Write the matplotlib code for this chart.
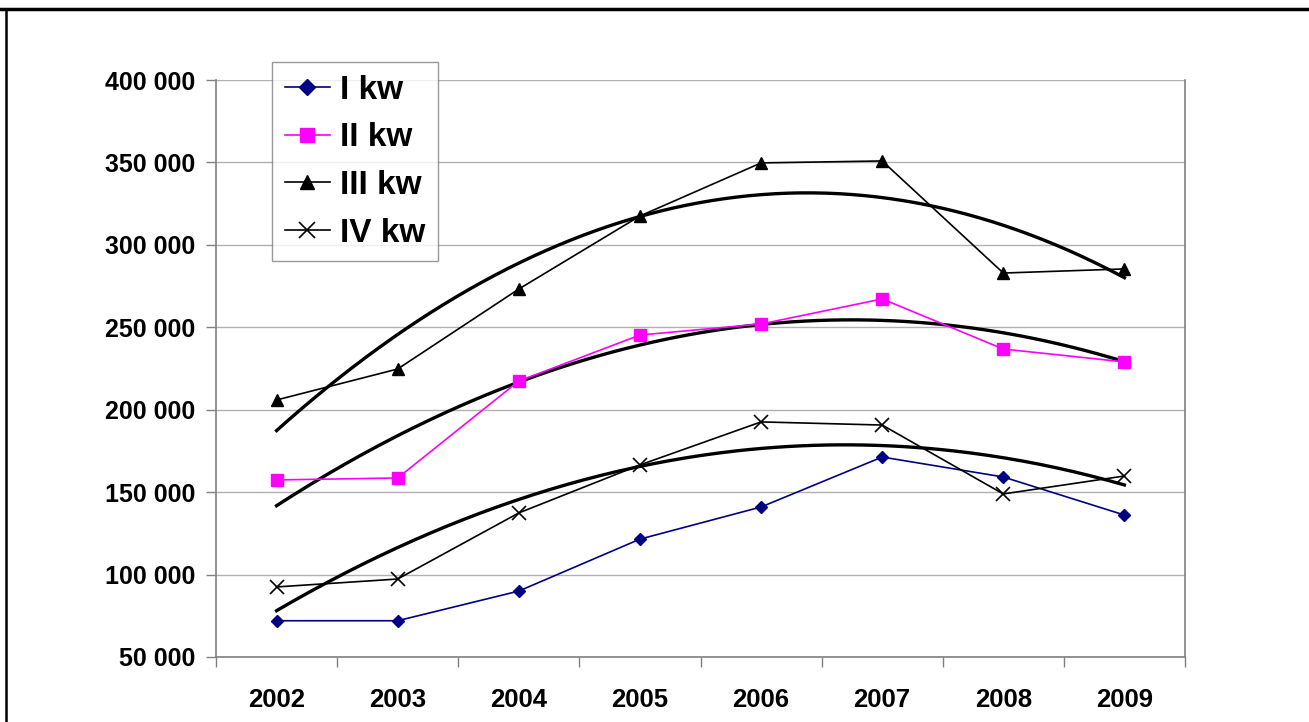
import numpy as np
import matplotlib
matplotlib.use("Agg")
import matplotlib.pyplot as plt
from matplotlib.ticker import FuncFormatter

plt.rcParams['font.family'] = ['Liberation Sans', 'DejaVu Sans']

years = ['2002', '2003', '2004', '2005', '2006', '2007', '2008', '2009']
kw1 = [72000, 72000, 90000, 121500, 141000, 171300, 159200, 136100]
kw2 = [157400, 158600, 217400, 245300, 252000, 267200, 236800, 229000]
kw3 = [205900, 224700, 273200, 317500, 349700, 350900, 282900, 285400]
kw4 = [92500, 97300, 137400, 166500, 192600, 190700, 148900, 159800]
labels = ['I kw', 'II kw', 'III kw', 'IV kw']

fig = plt.figure(figsize=(13.09, 7.22), dpi=100)
ax = fig.add_axes([216/1309, 1-657/722, 969/1309, 577/722])

x = np.arange(len(years)) + 0.5

ax.plot(x, kw1, color='#000080', lw=1.2, marker='D', ms=6.5, label=labels[0], zorder=3)
ax.plot(x, kw2, color='#ff00ff', lw=1.2, marker='s', ms=8, label=labels[1], zorder=3)
ax.plot(x, kw3, color='black', lw=1.2, marker='^', ms=8, label=labels[2], zorder=3)
ax.plot(x, kw4, color='black', lw=1.2, marker='x', ms=10, mew=1.2, label=labels[3], zorder=3)

# polynomial (2nd order) trend lines for II, III, IV
xf = np.linspace(x[0], x[-1], 200)
for ser in (kw2, kw3, kw4):
    c = np.polyfit(x, ser, 2)
    ax.plot(xf, np.polyval(c, xf), color='black', lw=2.4, zorder=2)

ax.set_xlim(0, 8)
ax.set_ylim(50000, 400000)
ax.set_yticks(np.arange(50000, 400001, 50000))
ax.yaxis.set_major_formatter(FuncFormatter(lambda v, p: '{:,}'.format(int(v)).replace(',', ' ')))
ax.set_xticks(np.arange(0, 9))
ax.set_xticklabels([])
ax.set_xticks(x, minor=True)
ax.set_xticklabels(years, minor=True)
ax.tick_params(axis='x', which='minor', length=0, pad=22, labelsize=18.5)
ax.tick_params(axis='x', which='major', length=7, color='#808080', width=1)
ax.tick_params(axis='y', length=7, color='#808080', width=1, labelsize=18, pad=8)
for t in ax.get_xticklabels(minor=True) + ax.get_yticklabels():
    t.set_fontweight('bold')

ax.grid(axis='y', color='#b0b0b0', lw=1)
ax.set_axisbelow(True)
for s in ('top',):
    ax.spines[s].set_visible(False)
for s in ('left', 'bottom', 'right'):
    ax.spines[s].set_color('#808080')
    ax.spines[s].set_linewidth(1.2)

leg = ax.legend(loc='upper left', bbox_to_anchor=(0.058, 1.031), fancybox=False,
                prop={'weight': 'bold', 'size': 24}, handlelength=1.35,
                handletextpad=0.3, labelspacing=0.5, borderpad=0.38,
                borderaxespad=0, markerscale=1.2)
leg.get_frame().set_edgecolor('#808080')
leg.get_frame().set_linewidth(1)

# outer frame lines (top and left)
fig.add_artist(plt.Line2D([0, 1], [1-9/722, 1-9/722], color='black', lw=2.5))
fig.add_artist(plt.Line2D([6/1309, 6/1309], [0, 1-9/722], color='black', lw=1.8))

fig.savefig('out.png', dpi=100)
